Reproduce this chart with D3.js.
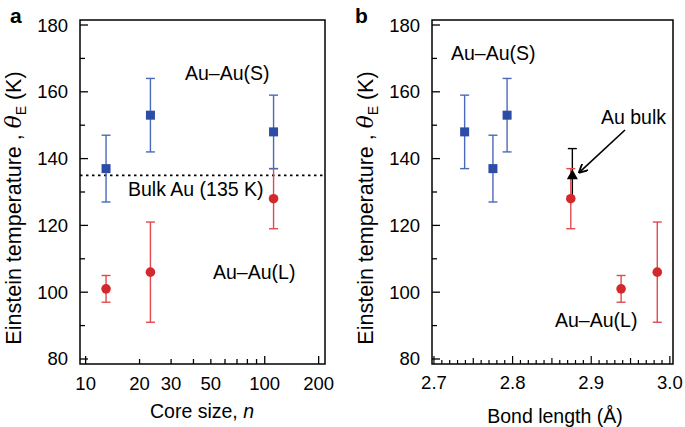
<!DOCTYPE html>
<html>
<head>
<meta charset="utf-8">
<script src="https://cdn.jsdelivr.net/npm/d3@7"></script>
<style>
  body { margin: 0; background: #fff; }
  svg { font-family: "Liberation Sans", Arial, Helvetica, sans-serif; }
</style>
</head>
<body>
<svg id="fig" width="685" height="427"></svg>
<script>
// core sizes n (panel a)
var coreSize = [13, 23, 112];
// Au-Au(S) short bonds
var sTemp = [137, 153, 148];
var sLow = [127, 142, 137];
var sHigh = [147, 164, 159];
var sBond = [2.775, 2.793, 2.739];
// Au-Au(L) long bonds
var lTemp = [101, 106, 128];
var lLow = [97, 91, 119];
var lHigh = [105, 121, 137];
var lBond = [2.938, 2.984, 2.874];
// bulk gold
var bulkTemp = 135;
var bulkLow = 128;
var bulkHigh = 143;
var bulkBond = 2.876;

var yTicks = [80, 100, 120, 140, 160, 180];
var xTicksA = [10, 20, 30, 50, 100, 200];
var xTicksB = [2.7, 2.8, 2.9, 3.0];

var blue = "#2c4ca6", blueBar = "#4c68bb";
var red = "#d3292c", redBar = "#e04a4e";

var svg = d3.select("#fig");
var plotTop = 20, plotBottom = 364;

var y = d3.scaleLinear().domain([78.5, 181.5]).range([plotBottom, plotTop]);
var xa = d3.scaleLog().domain([9.3, 217]).range([80, 325]);
var xb = d3.scaleLinear().domain([2.6975, 3.004]).range([432, 673]);

function frame(g, x0, x1) {
    g.append("rect")
        .attr("x", x0).attr("y", plotTop)
        .attr("width", x1 - x0).attr("height", plotBottom - plotTop)
        .attr("fill", "none").attr("stroke", "#000").attr("stroke-width", 1.5);
}

function yAxis(g, x0) {
    // inward ticks, minor every 10
    d3.range(80, 181, 10).forEach(function(v) {
        var len = (v % 20 == 0) ? 8 : 5;
        g.append("line")
            .attr("x1", x0).attr("x2", x0 + len)
            .attr("y1", y(v)).attr("y2", y(v))
            .attr("stroke", "#000").attr("stroke-width", 1.3);
    });
    g.selectAll(".ylab").data(yTicks).enter().append("text")
        .attr("x", x0 - 12).attr("y", function(d) { return y(d) + 6.5; })
        .attr("text-anchor", "end")
        .attr("font-size", 18.5)
        .text(function(d) { return d; });
}

function yTitle(g, x) {
    var t = g.append("text")
        .attr("transform", "translate(" + x + "," + 208 + ") rotate(-90)")
        .attr("text-anchor", "middle")
        .attr("font-size", 21.5);
    t.append("tspan").text("Einstein temperature , ");
    t.append("tspan").attr("font-style", "italic").attr("font-family", "DejaVu Serif").text("\u03B8");
    t.append("tspan").attr("font-size", 14).attr("dy", 5).text("E");
    t.append("tspan").attr("dy", -5).text(" (K)");
}

function errBars(g, xs, lo, hi, col, cap) {
    xs.forEach(function(xv, i) {
        g.append("line")
            .attr("x1", xv).attr("x2", xv)
            .attr("y1", y(lo[i])).attr("y2", y(hi[i]))
            .attr("stroke", col).attr("stroke-width", 1.4);
        [lo[i], hi[i]].forEach(function(v) {
            g.append("line")
                .attr("x1", xv - cap).attr("x2", xv + cap)
                .attr("y1", y(v)).attr("y2", y(v))
                .attr("stroke", col).attr("stroke-width", 1.4);
        });
    });
}

function squares(g, xs, vals) {
    g.selectAll(null).data(vals).enter().append("rect")
        .attr("x", function(d, i) { return xs[i] - 4.5; })
        .attr("y", function(d) { return y(d) - 4.5; })
        .attr("width", 9).attr("height", 9)
        .attr("fill", blue);
}

function dots(g, xs, vals) {
    g.selectAll(null).data(vals).enter().append("circle")
        .attr("cx", function(d, i) { return xs[i]; })
        .attr("cy", function(d) { return y(d); })
        .attr("r", 4.8)
        .attr("fill", red);
}

function label(g, x, yy, txt, size, anchor) {
    g.append("text").attr("x", x).attr("y", yy)
        .attr("font-size", size || 19.5)
        .attr("text-anchor", anchor || "start")
        .text(txt);
}

/* ---------- panel a ---------- */
var ga = svg.append("g");
frame(ga, 80, 325);
yAxis(ga, 80);
yTitle(ga, 21);

var minorA = [10, 20, 30, 40, 50, 60, 70, 80, 90, 100, 200];
minorA.forEach(function(v) {
    var len = (v == 10 || v == 100 || v == 200) ? 8 : 5;
    ga.append("line")
        .attr("x1", xa(v)).attr("x2", xa(v))
        .attr("y1", plotBottom).attr("y2", plotBottom - len)
        .attr("stroke", "#000").attr("stroke-width", 1.3);
});
ga.selectAll(".xlab").data(xTicksA).enter().append("text")
    .attr("x", function(d) { return xa(d); })
    .attr("y", 390)
    .attr("text-anchor", "middle")
    .attr("font-size", 18.5)
    .text(function(d) { return d; });

var tA = ga.append("text").attr("x", 202).attr("y", 418)
    .attr("text-anchor", "middle").attr("font-size", 19.5);
tA.append("tspan").text("Core size, ");
tA.append("tspan").attr("font-style", "italic").text("n");

// bulk reference line
ga.append("line")
    .attr("x1", 80).attr("x2", 325)
    .attr("y1", y(bulkTemp)).attr("y2", y(bulkTemp))
    .attr("stroke", "#000").attr("stroke-width", 1.8)
    .attr("stroke-dasharray", "2.5,3.5");

var xsA = coreSize.map(function(d) { return xa(d); });
errBars(ga, xsA, lLow, lHigh, redBar, 4.5);
errBars(ga, xsA, sLow, sHigh, blueBar, 4.5);
squares(ga, xsA, sTemp);
dots(ga, xsA, lTemp);

label(ga, 185, 80, "Au\u2013Au(S)");
label(ga, 128, 196, "Bulk Au (135 K)");
label(ga, 213, 279, "Au\u2013Au(L)");
ga.append("text").attr("x", 10).attr("y", 23)
    .attr("font-size", 21).attr("font-weight", "bold").text("a");

/* ---------- panel b ---------- */
var gb = svg.append("g");
frame(gb, 432, 673);
yAxis(gb, 432);
yTitle(gb, 373);

d3.range(270, 301, 1).forEach(function(k) {
    var v = k / 100;
    var len = (k % 10 == 0) ? 8 : ((k % 5 == 0) ? 6 : 4);
    gb.append("line")
        .attr("x1", xb(v)).attr("x2", xb(v))
        .attr("y1", plotBottom).attr("y2", plotBottom - len)
        .attr("stroke", "#000").attr("stroke-width", 1.2);
});
gb.selectAll(".xlab").data(xTicksB).enter().append("text")
    .attr("x", function(d) { return xb(d); })
    .attr("y", 389)
    .attr("text-anchor", "middle")
    .attr("font-size", 18.5)
    .text(function(d) { return d.toFixed(1); });

label(gb, 555, 423, "Bond length (\u00C5)", 19.5, "middle");

// bulk point under the red one
gb.append("line")
    .attr("x1", xb(bulkBond)).attr("x2", xb(bulkBond))
    .attr("y1", y(bulkLow)).attr("y2", y(bulkHigh))
    .attr("stroke", "#000").attr("stroke-width", 1.4);
gb.append("line")
    .attr("x1", xb(bulkBond) - 4.5).attr("x2", xb(bulkBond) + 4.5)
    .attr("y1", y(bulkHigh)).attr("y2", y(bulkHigh))
    .attr("stroke", "#000").attr("stroke-width", 1.4);

var xsBs = sBond.map(function(d) { return xb(d); });
var xsBl = lBond.map(function(d) { return xb(d); });
errBars(gb, xsBl, lLow, lHigh, redBar, 4.5);
errBars(gb, xsBs, sLow, sHigh, blueBar, 4.5);
squares(gb, xsBs, sTemp);
dots(gb, xsBl, lTemp);

var bx = xb(bulkBond), by = y(bulkTemp);
gb.append("path")
    .attr("d", "M" + bx + "," + (by - 6) + "L" + (bx + 5.5) + "," + (by + 4) + "L" + (bx - 5.5) + "," + (by + 4) + "Z")
    .attr("fill", "#000");

// arrow to bulk point
svg.append("defs").append("marker")
    .attr("id", "arr").attr("viewBox", "0 0 10 10")
    .attr("refX", 9).attr("refY", 5)
    .attr("markerWidth", 9).attr("markerHeight", 9)
    .attr("markerUnits", "userSpaceOnUse")
    .attr("orient", "auto")
    .append("path").attr("d", "M0,0L10,5L0,10").attr("fill", "none")
    .attr("stroke", "#000").attr("stroke-width", 2);
gb.append("line")
    .attr("x1", 625).attr("y1", 130)
    .attr("x2", bx + 7).attr("y2", by - 3)
    .attr("stroke", "#000").attr("stroke-width", 1.6)
    .attr("marker-end", "url(#arr)");

label(gb, 451, 60, "Au\u2013Au(S)");
label(gb, 601, 124, "Au bulk");
label(gb, 555, 327, "Au\u2013Au(L)");
gb.append("text").attr("x", 355).attr("y", 23)
    .attr("font-size", 21).attr("font-weight", "bold").text("b");
</script>
</body>
</html>
